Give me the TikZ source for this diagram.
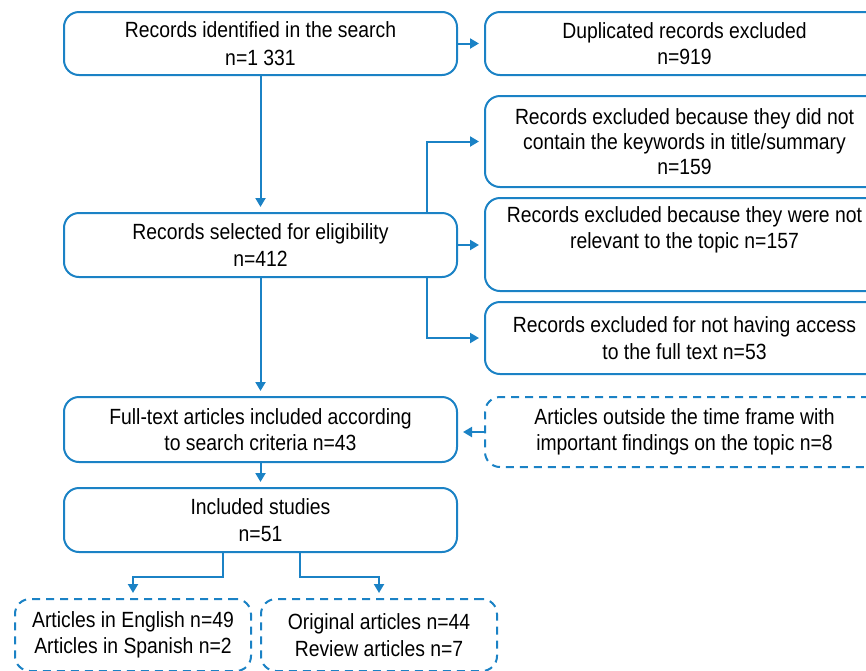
\documentclass[tikz,border=0pt]{standalone}
\usepackage{fontspec}
\setmainfont{Liberation Sans}[FakeStretch=0.88]
\usetikzlibrary{arrows.meta}
\definecolor{flowblue}{HTML}{1B82C5}
\tikzset{
  box/.style={draw=flowblue,line width=2pt,rounded corners=15pt,align=center,inner sep=0pt,font=\fontsize{22}{26.5}\selectfont},
  dbox/.style={box,dash pattern=on 8pt off 6pt},
  arr/.style={draw=flowblue,line width=2pt,-{Triangle[length=9pt,width=10pt]},shorten >=5pt}
}
\begin{document}
\begin{tikzpicture}[x=1pt,y=-1pt]
\useasboundingbox (0,0) rectangle (866,670);
%main column
\node[box,minimum width=393pt,minimum height=63pt](rec)at(260.5,43.5){Records identified in the search\\[1pt]n=1 331};
\node[box,minimum width=393pt,minimum height=64pt](sel)at(260.5,245){Records selected for eligibility\\n=412};
\node[box,minimum width=393pt,minimum height=65pt](full)at(260.5,429.5){Full-text articles included according\\to search criteria n=43};
\node[box,minimum width=393pt,minimum height=64pt](inc)at(260.5,520){Included studies\\n=51};
%excluded records
\node[box,minimum width=399pt,minimum height=63pt](dup)at(684.5,43.5){Duplicated records excluded\\n=919};
\node[box,minimum width=399pt,minimum height=91pt](exkey)at(684.5,141.5){Records excluded because they did not\\[-1.5pt]contain the keywords in title/summary\\[-1.5pt]n=159};
\node[box,minimum width=399pt,minimum height=93pt](exrel)at(684.5,244.5){Records excluded because they were not\\relevant to the topic n=157\\ \strut};
\node[box,minimum width=399pt,minimum height=72pt](exacc)at(684.5,338){Records excluded for not having access\\to the full text n=53};
\node[dbox,minimum width=399pt,minimum height=70pt](late)at(684.5,432){Articles outside the time frame with\\important findings on the topic n=8};
%language and type
\node[dbox,minimum width=236pt,minimum height=72pt](lang)at(133,635){Articles in English n=49\\Articles in Spanish n=2};
\node[dbox,minimum width=236pt,minimum height=72pt](kind)at(379,635){Original articles n=44\\Review articles n=7};
%arrows
\draw[arr](rec.east)--(dup.west);
\draw[arr](rec.south)--(sel.north);
\draw[arr]([xshift=-31pt]sel.north east)|-(exkey.west);
\draw[arr](sel.east)--(sel.east-|exrel.west);
\draw[arr]([xshift=-31pt]sel.south east)|-(exacc.west);
\draw[arr](sel.south)--(full.north);
\draw[arr](late.west)--(late.west-|full.east);
\draw[arr](full.south)--(inc.north);
\draw[arr]([xshift=-37.5pt]inc.south)--++(0,24)-|(lang.north);
\draw[arr]([xshift=39.5pt]inc.south)--++(0,24)-|(kind.north);
\end{tikzpicture}
\end{document}
